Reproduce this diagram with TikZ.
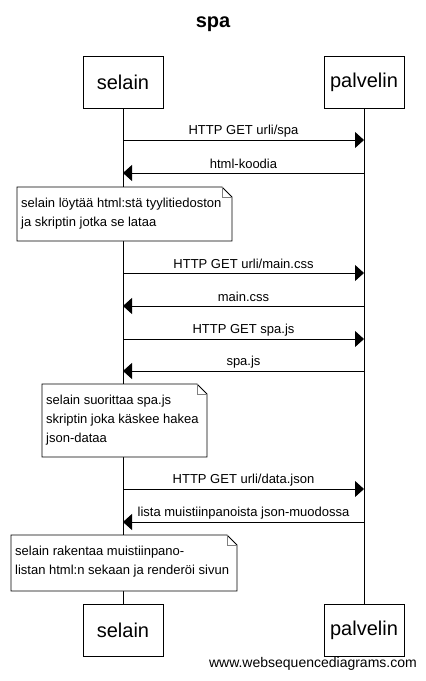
\documentclass[tikz,border=0pt]{standalone}
\usepackage{fontspec}
\setmainfont{Liberation Sans}
\usepackage{tikz}
\usetikzlibrary{arrows.meta, positioning, calc}
\tikzset{
  actor/.style={rectangle, draw, thick, minimum width=80pt, minimum height=52pt,
    inner sep=0pt, font=\fontsize{20}{24}\selectfont},
  notetext/.style={align=left, anchor=north west, inner sep=0pt,
    font=\fontsize{13}{19}\selectfont},
  msg/.style={-{Triangle[length=9pt, width=16pt]}, thick},
  lbl/.style={font=\fontsize{13}{15}\selectfont, inner sep=0pt},
  life/.style={thick}
}
% a note box with folded top right corner
\newcommand{\seqnote}[4]{% name, top left, bottom right, text
  \coordinate (#1-nw) at #2;
  \coordinate (#1-se) at #3;
  \draw[thick, fill=white] (#1-nw) -- ($(#1-se |- #1-nw)+(-10,0)$) coordinate (#1-f)
    -- ++(10,10) -- (#1-se) -- (#1-nw |- #1-se) -- cycle;
  \draw[gray] (#1-f) -- ++(0,10) -- ++(10,0);
  \node[notetext] (#1) at ($(#1-nw)+(4,11)$) {#4};
}

\begin{document}
\begin{tikzpicture}[x=1pt, y=-1pt]
  \useasboundingbox (0,0) rectangle (426,681);

  \node[font=\fontsize{20}{24}\selectfont\bfseries] (title) at (213,24) {spa};

  \node[actor] (selain) at (123,82) {selain};
  \node[actor] (palvelin) at (364,82) {palvelin};
  \node[actor] (selainB) at (123,630) {selain};
  \node[actor] (palvelinB) at (364,630) {palvelin};

  \draw[life] (selain) -- (selainB);
  \draw[life] (palvelin) -- (palvelinB);

  % messages
  \foreach \y/\dir/\txt [count=\i] in {
      140/r/{HTTP GET urli/spa}, 173/l/{html-koodia},
      273/r/{HTTP GET urli/main.css}, 306/l/{main.css},
      339/r/{HTTP GET spa.js}, 371/l/{spa.js},
      489/r/{HTTP GET urli/data.json}, 522/l/{lista muistiinpanoista json-muodossa}} {
    \coordinate (s\i) at (selain |- 0,\y);
    \coordinate (p\i) at (palvelin |- 0,\y);
    \node[lbl] (m\i) at ($(s\i)!0.5!(p\i)+(0,-9)$) {\txt};
    \if r\dir
      \draw[msg] (s\i) -- (p\i);
    \else
      \draw[msg] (p\i) -- (s\i);
    \fi
  }

  % notes
  \seqnote{n1}{(17,187)}{(232,241)}{selain löytää html:stä tyylitiedoston\\ja skriptin jotka se lataa}
  \seqnote{n2}{(42,384)}{(207,457)}{selain suorittaa spa.js\\skriptin joka käskee hakea\\json-dataa}
  \seqnote{n3}{(11,535)}{(237,591)}{selain rakentaa muistiinpano-\\listan html:n sekaan ja renderöi sivun}

  \node[lbl, anchor=east, font=\fontsize{14}{16}\selectfont] (wsd) at (417,664) {www.websequencediagrams.com};
\end{tikzpicture}
\end{document}
